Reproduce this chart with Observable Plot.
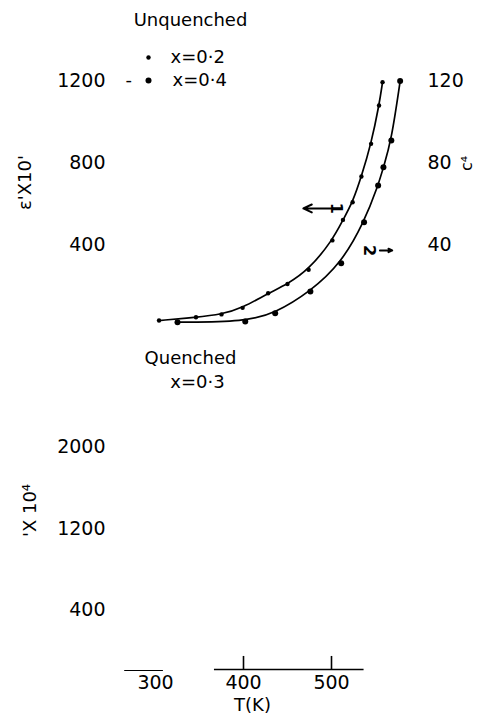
<!DOCTYPE html>
<html>
<head>
<meta charset="utf-8">
<script src="https://cdn.jsdelivr.net/npm/d3@7"></script>
<script src="https://cdn.jsdelivr.net/npm/@observablehq/plot@0.6"></script>
<style>
  body { margin: 0; background: white; }
  #chart { width: 479px; background: white; }
  #chart svg { display: block; }
</style>
</head>
<body>
<div id="chart"></div>
<script>
// Unquenched, x = 0.2 (left axis, arrow 1)
const T02 = [304, 346, 375, 399, 428, 450, 474, 501, 513, 524, 534, 545, 554, 558];
const V02 = [29, 45, 59, 91, 162, 207, 277, 420, 520, 606, 732, 891, 1078, 1192];
// Unquenched, x = 0.4 (right axis, arrow 2)
const T04 = [325, 402, 436, 476, 511, 537, 553, 559, 568, 578];
const V04 = [21, 24, 65, 171, 309, 509, 688, 777, 907, 1197];

const topTicks = [400, 800, 1200];
const bottomTicks = [400, 1200, 2000];
const xTicks = [300, 400, 500];
const xTickMarks = [400, 500];

// arrows (data units) pointing to the axis each curve belongs to
const arrowTail = [500, 555];
const arrowHead = [468, 569];
const arrowLevel = [576, 371];
const arrowLabelT = [505, 543];
const arrowNames = ["1", "2"];

const FONT = "DejaVu Sans";
const fmt = d => String(d);

const d02 = T02.map((t, i) => ({T: t, v: V02[i]}));
const d04 = T04.map((t, i) => ({T: t, v: V04[i]}));
const arrows = arrowNames.map((n, i) => ({n, x1: arrowTail[i], x2: arrowHead[i], y: arrowLevel[i], xt: arrowLabelT[i]}));

const topPlot = Plot.plot({
  width: 479, height: 340,
  marginLeft: 111, marginRight: 60, marginTop: 39, marginBottom: 14,
  x: {domain: [250, 600], axis: null},
  y: {domain: [0, 1400]},
  style: {fontFamily: FONT, background: "white", color: "black"},
  marks: [
    Plot.axisY(topTicks, {anchor: "left", tickSize: 0, tickPadding: 6, fontSize: 19, label: null, tickFormat: fmt}),
    Plot.axisY(topTicks, {anchor: "right", tickSize: 0, tickPadding: 8, fontSize: 19, label: null, tickFormat: d => String(d / 10)}),
    Plot.line(d02, {x: "T", y: "v", curve: "basis", stroke: "black", strokeWidth: 1.7}),
    Plot.line(d04, {x: "T", y: "v", curve: "basis", stroke: "black", strokeWidth: 1.7}),
    Plot.dot(d02, {x: "T", y: "v", r: 2.2, fill: "black"}),
    Plot.dot(d04, {x: "T", y: "v", r: 3, fill: "black"}),
    Plot.arrow(arrows, {x1: "x1", x2: "x2", y1: "y", y2: "y", stroke: "black", strokeWidth: 2, headLength: 7, headAngle: 50}),
    Plot.text(arrows, {x: "xt", y: "y", text: "n", rotate: 90, fontSize: 16, fontWeight: "bold", lineAnchor: "middle"}),
    Plot.text(["Unquenched"], {frameAnchor: "top-left", dx: 79, dy: -19, fontSize: 18, textAnchor: "middle", lineAnchor: "middle"}),
    Plot.dot([0], {frameAnchor: "top-left", dx: 37, dy: 18, r: 2.2, fill: "black"}),
    Plot.dot([0], {frameAnchor: "top-left", dx: 37, dy: 41, r: 3, fill: "black"}),
    Plot.text(["x=0·2"], {frameAnchor: "top-left", dx: 59, dy: 18, fontSize: 18, textAnchor: "start", lineAnchor: "middle"}),
    Plot.text(["x=0·4"], {frameAnchor: "top-left", dx: 61, dy: 41, fontSize: 18, textAnchor: "start", lineAnchor: "middle"}),
    Plot.text(["-"], {frameAnchor: "top-left", dx: 14, dy: 41, fontSize: 18, lineAnchor: "middle"}),
    Plot.text(["ε'X10'"], {frameAnchor: "top-left", dx: -86, dy: 143, fontSize: 18, rotate: -90, textAnchor: "middle", lineAnchor: "middle"}),
    Plot.text(["c⁴"], {frameAnchor: "top-left", dx: 355, dy: 124, fontSize: 16, rotate: -90, textAnchor: "middle", lineAnchor: "middle"})
  ]
});

const bottomPlot = Plot.plot({
  width: 479, height: 376,
  marginLeft: 111, marginRight: 60, marginTop: 66, marginBottom: 47,
  x: {domain: [250, 600]},
  y: {domain: [-180, 2400]},
  style: {fontFamily: FONT, background: "white", color: "black"},
  marks: [
    Plot.axisY(bottomTicks, {anchor: "left", tickSize: 0, tickPadding: 6, fontSize: 19, label: null, tickFormat: fmt}),
    Plot.axisX(xTicks, {anchor: "bottom", tickSize: 0, tickPadding: 6, fontSize: 19, label: null, tickFormat: fmt}),
    Plot.ruleY([-180], {x1: 367, x2: 537, stroke: "black", strokeWidth: 1.6}),
    Plot.ruleY([-190], {x1: 265, x2: 309, stroke: "black", strokeWidth: 1.2}),
    Plot.ruleX(xTickMarks, {y1: -180, y2: -52, stroke: "black", strokeWidth: 1.6}),
    Plot.text(["Quenched"], {frameAnchor: "top-left", dx: 79, dy: -48, fontSize: 18, textAnchor: "middle", lineAnchor: "middle"}),
    Plot.text(["x=0·3"], {frameAnchor: "top-left", dx: 86, dy: -24, fontSize: 18, textAnchor: "middle", lineAnchor: "middle"}),
    Plot.text(["'X 10⁴"], {frameAnchor: "top-left", dx: -81, dy: 104, fontSize: 18, rotate: -90, textAnchor: "middle", lineAnchor: "middle"}),
    Plot.text(["T(K)"], {frameAnchor: "bottom-left", dx: 141, dy: 36, fontSize: 18, textAnchor: "middle", lineAnchor: "middle"})
  ]
});

document.getElementById("chart").append(topPlot, bottomPlot);
</script>
</body>
</html>
